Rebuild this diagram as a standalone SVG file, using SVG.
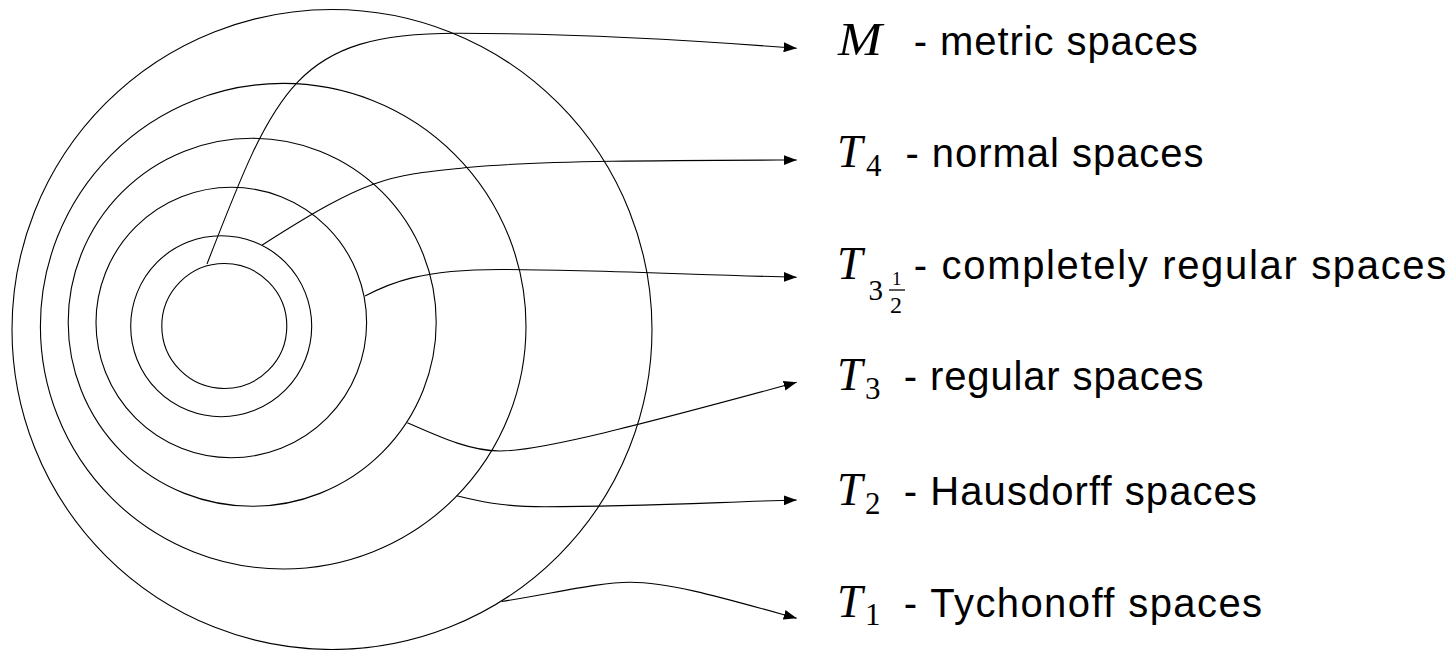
<svg xmlns="http://www.w3.org/2000/svg" width="1455" height="650" viewBox="0 0 1455 650">
<style>
.ring{fill:none;stroke:#000;stroke-width:1.1}
.conn{fill:none;stroke:#000;stroke-width:1.1;marker-end:url(#arr)}
.mi{font-family:"Liberation Serif",serif;font-style:italic;font-size:46px;fill:#000}
.sub{font-family:"Liberation Serif",serif;font-size:31px;fill:#000}
.ss{font-family:"Liberation Sans",Arial,sans-serif;font-size:40px;fill:#000}
</style>
<defs>
<marker id="arr" markerUnits="userSpaceOnUse" viewBox="0 0 13 10" refX="13" refY="5" markerWidth="13" markerHeight="10" orient="auto">
<path d="M0,0 L13,5 L0,10 Z" fill="#000"/>
</marker>
</defs>
<rect width="1455" height="650" fill="#fff"/>
<g id="ring-T1"><circle class="ring" cx="332" cy="329.5" r="320"/></g>
<g id="ring-T2"><circle class="ring" cx="283.2" cy="326.2" r="242.8"/></g>
<g id="ring-T3"><circle class="ring" cx="252.2" cy="322.3" r="184"/></g>
<g id="ring-T3half"><circle class="ring" cx="231.3" cy="322.5" r="135.3"/></g>
<g id="ring-T4"><circle class="ring" cx="221.2" cy="326.2" r="90.5"/></g>
<g id="ring-M"><circle class="ring" cx="224.3" cy="326" r="62.5"/></g>
<g id="connectors">
<path class="conn" d="M207,264 C275.7,86.6 296.7,33.3 456.7,33.3 C580,33.3 690,40 796.7,48.3"/>
<path class="conn" d="M262.3,245 C371.5,174.8 390,175.3 470,167.3 C540,160.3 700,160.3 796.7,160"/>
<path class="conn" d="M365,296 C390,283 420,269.5 500,269.5 C580,269.5 690,274.5 796.7,277.3"/>
<path class="conn" d="M407.3,422.7 C440,437 470,451 500,451 C540,451 640,425 796.7,382.3"/>
<path class="conn" d="M456.7,495.7 C490,504 510,506.7 545,506.7 C640,506.7 720,502 796.7,500"/>
<path class="conn" d="M501.7,601.5 C560,592 600,582.3 630,582.3 C670,582.3 720,597 796.7,618.3"/>
</g>
<g id="label-M">
<text class="mi" x="838" y="55" textLength="44" lengthAdjust="spacingAndGlyphs">M</text>
<text class="ss" x="913.8" y="55" textLength="284" lengthAdjust="spacing">- metric spaces</text>
</g>
<g id="label-T4">
<text class="mi" x="837" y="166.7">T</text>
<text class="sub" x="866" y="175.5">4</text>
<text class="ss" x="905.5" y="166.7" textLength="298" lengthAdjust="spacing">- normal spaces</text>
</g>
<g id="label-T3half">
<text class="mi" x="837" y="279.3">T</text>
<text class="sub" x="868.5" y="300" style="font-size:29px">3</text>
<text class="sub" x="892" y="285" style="font-size:19px">1</text>
<line x1="889" y1="290" x2="905" y2="290" stroke="#000" stroke-width="1.3"/>
<text class="sub" x="890" y="313" style="font-size:24px">2</text>
<text class="ss" x="913.8" y="279.3" textLength="532.4" lengthAdjust="spacing">- completely regular spaces</text>
</g>
<g id="label-T3">
<text class="mi" x="837" y="390">T</text>
<text class="sub" x="865" y="398.5">3</text>
<text class="ss" x="903.8" y="390" textLength="299.8" lengthAdjust="spacing">- regular spaces</text>
</g>
<g id="label-T2">
<text class="mi" x="837" y="505">T</text>
<text class="sub" x="865" y="513.5">2</text>
<text class="ss" x="903.8" y="505" textLength="353" lengthAdjust="spacing">- Hausdorff spaces</text>
</g>
<g id="label-T1">
<text class="mi" x="837" y="616.7">T</text>
<text class="sub" x="865" y="625">1</text>
<text class="ss" x="903.8" y="616.7" textLength="358.3" lengthAdjust="spacing">- Tychonoff spaces</text>
</g>
</svg>
